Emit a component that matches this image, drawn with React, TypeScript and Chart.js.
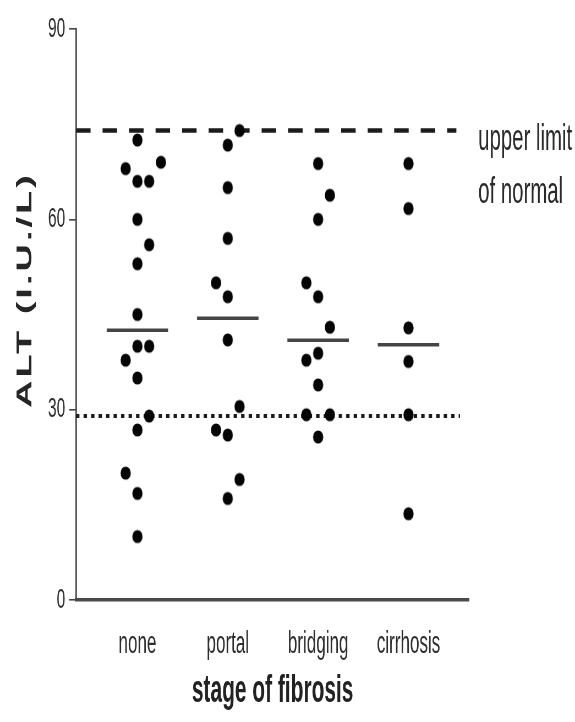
import React, { useEffect, useRef } from "react";
import { Chart, registerables } from "chart.js";

Chart.register(...registerables);

// ---------- data ----------
const categories = ["none", "portal", "bridging", "cirrhosis"];

// ALT values (I.U./L), one array per fibrosis stage
const noneValues = [72.5, 68, 66, 66, 69, 60, 56, 53, 45, 40, 40, 37.8, 35, 29, 26.8, 20, 16.8, 10];
const portalValues = [74, 71.7, 65, 57, 50, 47.8, 41, 30.5, 26.8, 26, 19, 16];
const bridgingValues = [68.8, 63.8, 60, 50, 47.8, 43, 38.9, 37.8, 33.9, 29.2, 29.2, 25.7];
const cirrhosisValues = [68.8, 61.7, 42.9, 37.6, 29.2, 13.6];

// beeswarm column of each dot (-1 left, 0 centre, 1 right, 2 far right)
const noneSlots = [0, -1, 0, 1, 2, 0, 1, 0, 0, 0, 1, -1, 0, 1, 0, -1, 0, 0];
const portalSlots = [1, 0, 0, 0, -1, 0, 0, 1, -1, 0, 1, 0];
const bridgingSlots = [0, 1, 0, -1, 0, 1, 0, -1, 0, -1, 1, 0];
const cirrhosisSlots = [0, 0, 0, 0, 0, 0];

const yTicks = [0, 30, 60, 90];
const upperLimitOfNormal = 74;
const lowerReference = 29;

const yTitle = "ALT (I.U./L)";
const xTitle = "stage of fibrosis";
const limitLabel = ["upper limit", "of normal"];

// ---------- layout helpers ----------
const SQUISH = 0.55; // the whole figure is horizontally condensed
const W = Math.round(575 / SQUISH);
const H = 722;
const px = (v: number) => v / SQUISH;
const FONT = "'Liberation Sans', Arial, Helvetica, sans-serif";
const X_MIN = 0.321;
const X_MAX = 4.672;
const SLOT_W = 0.13;
const MED_HALF = 0.34;

const median = (arr: number[]) => {
  const s = [...arr].sort((a, b) => a - b);
  const m = Math.floor(s.length / 2);
  return s.length % 2 ? s[m] : (s[m - 1] + s[m]) / 2;
};

const groups = [
  { values: noneValues, slots: noneSlots },
  { values: portalValues, slots: portalSlots },
  { values: bridgingValues, slots: bridgingSlots },
  { values: cirrhosisValues, slots: cirrhosisSlots },
];

function makeDot(): HTMLCanvasElement {
  const rx = px(5.1);
  const ry = 6.6;
  const c = document.createElement("canvas");
  c.width = Math.ceil(rx * 2 + 2);
  c.height = Math.ceil(ry * 2 + 2);
  const g = c.getContext("2d")!;
  g.fillStyle = "#050505";
  g.beginPath();
  g.ellipse(c.width / 2, c.height / 2, rx, ry, 0, 0, Math.PI * 2);
  g.fill();
  return c;
}

const textPlugin = {
  id: "extraText",
  afterDraw(chart: any) {
    const ctx = chart.ctx as CanvasRenderingContext2D;
    ctx.save();
    ctx.translate(px(25.5), 290);
    ctx.rotate(-Math.PI / 2);
    ctx.font = `bold 38px ${FONT}`;
    (ctx as any).letterSpacing = "3px";
    ctx.fillStyle = "#262626";
    ctx.textAlign = "center";
    ctx.textBaseline = "middle";
    ctx.fillText(yTitle, 0, 0);
    ctx.restore();

    ctx.save();
    ctx.font = `37px ${FONT}`;
    ctx.fillStyle = "#2a2a2a";
    ctx.textAlign = "left";
    ctx.textBaseline = "alphabetic";
    ctx.fillText(limitLabel[0], px(478), 150);
    ctx.fillText(limitLabel[1], px(478), 203);
    ctx.restore();
  },
};

export default function App() {
  const ref = useRef<HTMLCanvasElement | null>(null);

  useEffect(() => {
    if (!ref.current) return;
    const dot = makeDot();
    const datasets: any[] = [];
    groups.forEach((g, i) => {
      datasets.push({
        data: g.values.map((v, j) => ({ x: i + 1 + g.slots[j] * SLOT_W, y: v })),
        pointStyle: dot,
        pointRadius: 7,
        pointBackgroundColor: "#050505",
        pointBorderWidth: 0,
        order: 0,
      });
    });
    groups.forEach((g, i) => {
      const m = median(g.values);
      datasets.push({
        data: [
          { x: i + 1 - MED_HALF, y: m },
          { x: i + 1 + MED_HALF, y: m },
        ],
        showLine: true,
        borderColor: "#454545",
        borderWidth: 3.5,
        pointRadius: 0,
        order: 1,
      });
    });
    datasets.push({
      data: [
        { x: X_MIN, y: upperLimitOfNormal },
        { x: 4.53, y: upperLimitOfNormal },
      ],
      showLine: true,
      borderColor: "#1c1c1c",
      borderWidth: 4.5,
      borderDash: [px(14.5), px(12)],
      pointRadius: 0,
      order: 2,
    });
    datasets.push({
      data: [
        { x: X_MIN, y: lowerReference },
        { x: 4.57, y: lowerReference },
      ],
      showLine: true,
      borderColor: "#1c1c1c",
      borderWidth: 4,
      borderDash: [px(3.4), px(4.1)],
      pointRadius: 0,
      order: 2,
    });

    const chart = new Chart(ref.current, {
      type: "scatter",
      data: { datasets },
      plugins: [textPlugin],
      options: {
        responsive: false,
        animation: false,
        events: [],
        layout: { padding: { left: 0, right: W - px(469), top: 29, bottom: 0 } },
        plugins: { legend: { display: false }, tooltip: { enabled: false } },
        scales: {
          x: {
            type: "linear",
            min: X_MIN,
            max: X_MAX,
            afterBuildTicks: (s: any) => {
              s.ticks = categories.map((_, i) => ({ value: i + 1 }));
            },
            afterFit: (s: any) => {
              s.height = 122;
            },
            ticks: {
              autoSkip: false,
              maxRotation: 0,
              padding: 25.5,
              color: "#2e2e2e",
              font: { family: FONT, size: 31 },
              callback: (v: any) => categories[Math.round(Number(v)) - 1] ?? "",
            },
            grid: { display: false, drawTicks: false },
            border: { display: true, color: "#4a4a4a", width: 3.5 },
            title: {
              display: true,
              text: xTitle,
              color: "#222",
              font: { family: FONT, size: 38, weight: "bold" },
              padding: { top: 0, bottom: 7.5 },
            },
          },
          y: {
            min: 0,
            max: 90,
            afterBuildTicks: (s: any) => {
              s.ticks = yTicks.map((v) => ({ value: v }));
            },
            afterFit: (s: any) => {
              s.width = px(76);
            },
            ticks: {
              padding: 7,
              color: "#2e2e2e",
              font: { family: FONT, size: 28 },
            },
            grid: {
              drawOnChartArea: false,
              drawTicks: true,
              tickLength: px(7),
              color: "#444",
              lineWidth: 1.6,
            },
            border: { display: true, color: "#444", width: px(1.5) },
          },
        },
      },
    } as any);
    return () => chart.destroy();
  }, []);

  return (
    <div
      style={{
        position: "fixed",
        left: 0,
        top: 0,
        width: 575,
        height: 722,
        overflow: "hidden",
        background: "#fff",
      }}
    >
      <div style={{ width: W, height: H, transform: `scaleX(${575 / W})`, transformOrigin: "0 0" }}>
        <canvas ref={ref} width={W} height={H} style={{ display: "block" }} />
      </div>
    </div>
  );
}
